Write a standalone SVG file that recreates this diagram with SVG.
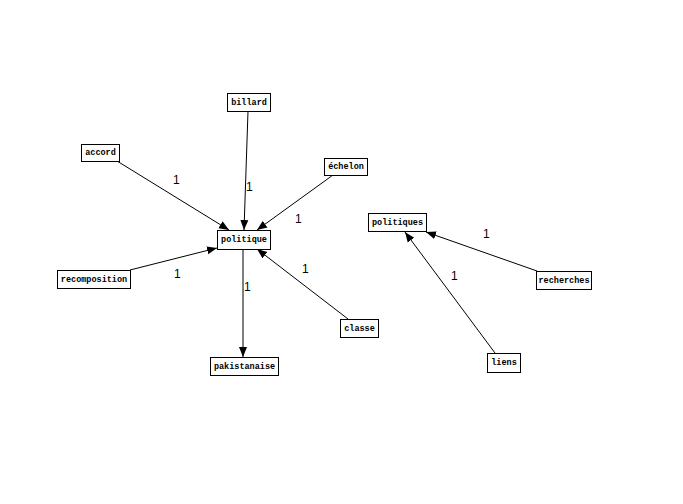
<svg xmlns="http://www.w3.org/2000/svg" width="683" height="504" viewBox="0 0 683 504">
<style>
.n rect{fill:#fff;stroke:#000;stroke-width:1}
.n text{font-family:"Liberation Mono","DejaVu Sans Mono",monospace;font-weight:bold;font-size:8.5px;text-anchor:middle;dominant-baseline:central;fill:#000}
.e line{stroke:#000;stroke-width:1;marker-end:url(#a)}
.l{font-family:"Liberation Sans",Arial,sans-serif;font-size:12px;fill:#000}
</style>
<defs>
<marker id="a" viewBox="0 0 10 10" refX="10" refY="5" markerWidth="10" markerHeight="10" markerUnits="userSpaceOnUse" orient="auto">
<path d="M0,1 L10,5 L0,9 Z" fill="#000"/>
</marker>
</defs>
<rect width="683" height="504" fill="#fff"/>
<g id="edges" class="e">
<line x1="248" y1="111" x2="244" y2="230"/>
<line x1="117" y1="161" x2="229" y2="230"/>
<line x1="333" y1="175" x2="257" y2="230"/>
<line x1="130" y1="270" x2="217" y2="248"/>
<line x1="348" y1="319" x2="257" y2="249"/>
<line x1="243" y1="249" x2="243" y2="357"/>
<line x1="537" y1="271" x2="426" y2="232"/>
<line x1="495" y1="353" x2="405" y2="232"/>
</g>
<g id="labels">
<text class="l" x="173" y="184">1</text>
<text class="l" x="246" y="191">1</text>
<text class="l" x="295" y="223">1</text>
<text class="l" x="174" y="278">1</text>
<text class="l" x="244" y="291">1</text>
<text class="l" x="302" y="273">1</text>
<text class="l" x="483" y="238">1</text>
<text class="l" x="451" y="280">1</text>
</g>
<g id="billard" class="n"><rect x="227.5" y="93.5" width="43" height="18"/><text x="249" y="102.5">billard</text></g>
<g id="accord" class="n"><rect x="81.5" y="144.5" width="38" height="17"/><text x="100.5" y="153">accord</text></g>
<g id="echelon" class="n"><rect x="324.5" y="158.5" width="43" height="17"/><text x="346" y="167">échelon</text></g>
<g id="politique" class="n"><rect x="217.5" y="230.5" width="53" height="19"/><text x="244" y="240">politique</text></g>
<g id="recomposition" class="n"><rect x="57.5" y="270.5" width="73" height="18"/><text x="94" y="279.5">recomposition</text></g>
<g id="classe" class="n"><rect x="340.5" y="319.5" width="38" height="18"/><text x="359.5" y="328.5">classe</text></g>
<g id="pakistanaise" class="n"><rect x="210.5" y="357.5" width="68" height="18"/><text x="244.5" y="366.5">pakistanaise</text></g>
<g id="politiques" class="n"><rect x="368.5" y="213.5" width="58" height="18"/><text x="397.5" y="222.5">politiques</text></g>
<g id="recherches" class="n"><rect x="536.5" y="271.5" width="55" height="18"/><text x="564" y="280.5">recherches</text></g>
<g id="liens" class="n"><rect x="487.5" y="353.5" width="33" height="19"/><text x="504" y="363">liens</text></g>
</svg>
